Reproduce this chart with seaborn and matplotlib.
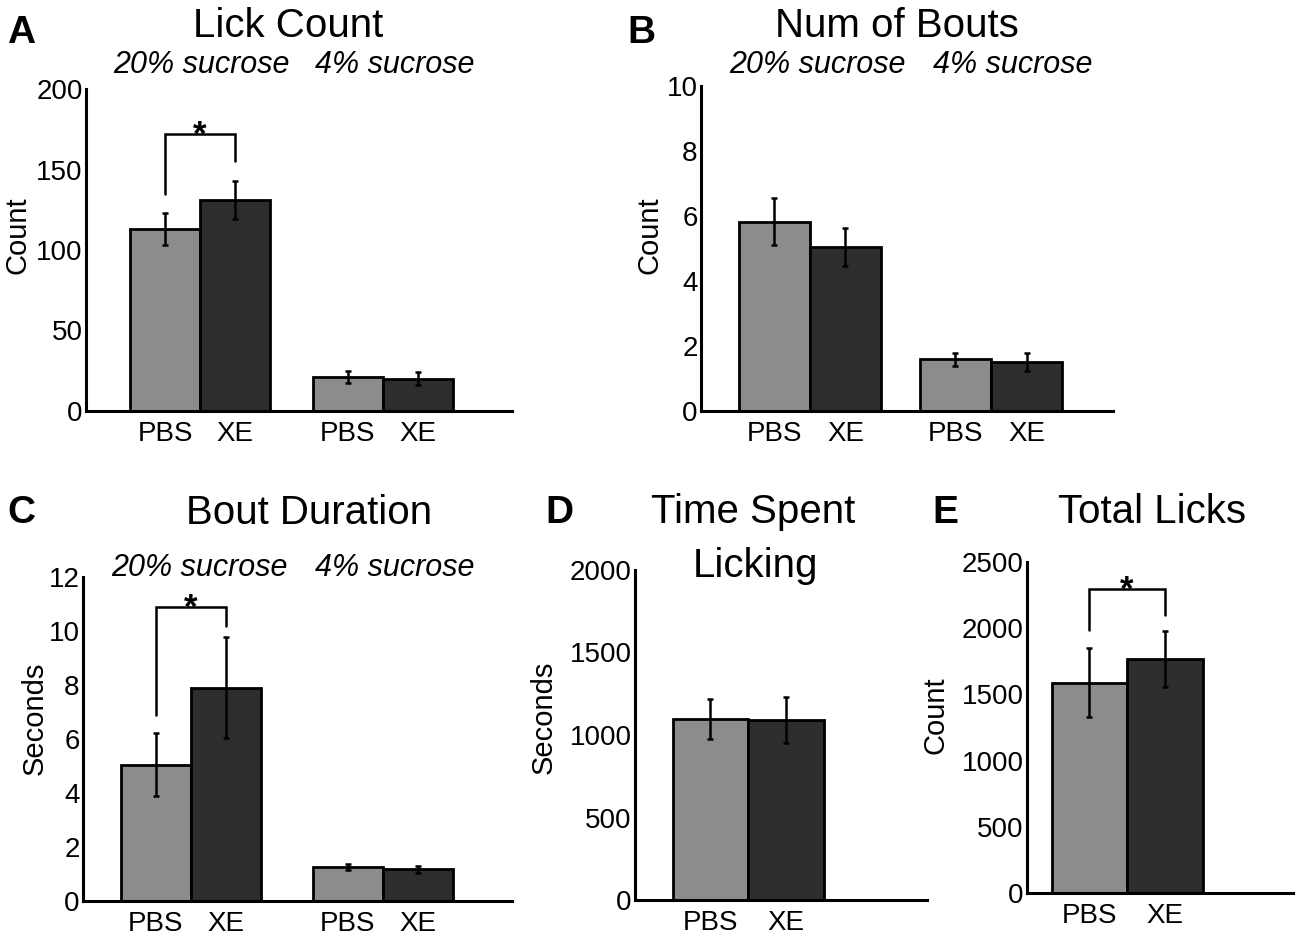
import pandas as pd
import seaborn as sns
import matplotlib.pyplot as plt

sns.set_style("white")
plt.rcParams["font.family"] = ["Liberation Sans", "DejaVu Sans"]
plt.rcParams["text.color"] = "black"
plt.rcParams["axes.labelcolor"] = "black"
plt.rcParams["xtick.color"] = "black"
plt.rcParams["ytick.color"] = "black"

treatments = ["PBS", "XE"]
sucrose = ["20% sucrose", "4% sucrose"]

# mean and SEM, in order PBS 20%, XE 20%, PBS 4%, XE 4%
lick_count = [113, 131, 21.3, 20.0]
lick_count_err = [10, 12, 3.6, 4.0]
bouts = [5.83, 5.04, 1.59, 1.50]
bouts_err = [0.73, 0.59, 0.20, 0.28]
bout_duration = [5.05, 7.9, 1.25, 1.17]
bout_duration_err = [1.16, 1.86, 0.12, 0.14]

# one condition only: PBS, XE
time_licking = [1097, 1091]
time_licking_err = [123, 140]
total_licks = [1588, 1766]
total_licks_err = [262, 213]

# significance brackets: PBS leg start, top, XE leg start
lick_count_sig = [135, 172, 155.5]
bout_duration_sig = [6.88, 10.89, 10.18]
total_licks_sig = [1985, 2299, 2098]

pbs_color = "#8c8c8c"
xe_color = "#2d2d2d"

W, H = 1300, 936


def make_df(values, groups):
    rows = []
    i = 0
    for g in groups:
        for t in treatments:
            rows.append({"group": g, "treatment": t, "value": values[i]})
            i += 1
    return pd.DataFrame(rows)


def add_axes(fig, left, top, right, bottom):
    return fig.add_axes([left / W, 1 - bottom / H, (right - left) / W, (bottom - top) / H])


def draw(ax, values, errs, groups, width, xlim, ylim, yticks, ylabel, label_pos):
    df = make_df(values, groups)
    sns.barplot(data=df, x="group", y="value", hue="treatment", order=groups,
                hue_order=treatments, palette=[pbs_color, xe_color], saturation=1,
                width=width, errorbar=None, edgecolor="black", linewidth=2,
                legend=False, ax=ax)
    bars = sorted(ax.patches, key=lambda p: p.get_x())
    centers = [p.get_x() + p.get_width() / 2 for p in bars]
    heights = [p.get_height() for p in bars]
    ax.errorbar(centers, heights, yerr=errs, fmt="none", ecolor="black",
                elinewidth=1.8, capsize=2.5, capthick=1.8, zorder=3)
    ax.set_xticks(centers)
    ax.set_xticklabels(treatments * len(groups))
    ax.set_xlim(xlim)
    ax.set_ylim(ylim)
    ax.set_yticks(yticks)
    ax.set_xlabel("")
    ax.set_ylabel(ylabel, fontsize=21)
    ax.yaxis.set_label_coords(*label_pos)
    ax.tick_params(axis="x", length=0, pad=7, labelsize=20)
    ax.tick_params(axis="y", direction="in", length=3, width=1.5, pad=2.5, labelsize=20)
    sns.despine(ax=ax)
    for s in ["left", "bottom"]:
        ax.spines[s].set_linewidth(2.2)
        ax.spines[s].set_color("black")
    return centers


def bracket(ax, x1, x2, sig):
    y1, top, y2 = sig
    ax.plot([x1, x1, x2, x2], [y1, top, top, y2], color="black", lw=1.8,
            solid_joinstyle="miter", clip_on=False, zorder=4)
    ax.annotate("*", xy=((x1 + x2) / 2, top), xytext=(0, -8),
                textcoords="offset points", ha="center", va="baseline",
                fontsize=25, fontweight="bold")


def ftext(fig, x, y, s, **kw):
    fig.text(x / W, 1 - y / H, s, va="baseline", **kw)


fig = plt.figure(figsize=(13, 9.36), dpi=100)

# A
axA = add_axes(fig, 86, 89, 512, 411)
c = draw(axA, lick_count, lick_count_err, sucrose, 0.765, (-0.623, 1.705), (0, 200),
         [0, 50, 100, 150, 200], "Count", (-0.127, 0.547))
bracket(axA, c[0], c[1], lick_count_sig)

# B
axB = add_axes(fig, 701, 86, 1113, 411)
draw(axB, bouts, bouts_err, sucrose, 0.785, (-0.602, 1.674), (0, 10),
     [0, 2, 4, 6, 8, 10], "Count", (-0.090, 0.54))

# C
axC = add_axes(fig, 83, 577, 512, 901)
c = draw(axC, bout_duration, bout_duration_err, sucrose, 0.73, (-0.5625, 1.672), (0, 12),
         [0, 2, 4, 6, 8, 10, 12], "Seconds", (-0.079, 0.565))
bracket(axC, c[0], c[1], bout_duration_sig)

# D
axD = add_axes(fig, 635, 570, 927, 900)
draw(axD, time_licking, time_licking_err, ["all"], 0.8, (-0.599, 0.948), (0, 2000),
     [0, 500, 1000, 1500, 2000], "Seconds", (-0.264, 0.555))

# E
axE = add_axes(fig, 1027, 562, 1293, 893)
c = draw(axE, total_licks, total_licks_err, ["all"], 0.8, (-0.530, 0.879), (0, 2500),
         [0, 500, 1000, 1500, 2000, 2500], "Count", (-0.293, 0.538))
bracket(axE, c[0], c[1], total_licks_sig)

# titles and panel letters
title_kw = dict(fontsize=29, ha="center")
sub_kw = dict(fontsize=22, ha="center", style="italic")
letter_kw = dict(fontsize=28, fontweight="bold", ha="left")

ftext(fig, 7, 43, "A", **letter_kw)
ftext(fig, 288, 37, "Lick Count", **title_kw)
ftext(fig, 201, 73, "20% sucrose", **sub_kw)
ftext(fig, 395, 73, "4% sucrose", **sub_kw)

ftext(fig, 627, 43, "B", **letter_kw)
ftext(fig, 897, 37, "Num of Bouts", **title_kw)
ftext(fig, 817, 73, "20% sucrose", **sub_kw)
ftext(fig, 1013, 73, "4% sucrose", **sub_kw)

ftext(fig, 7, 523, "C", **letter_kw)
ftext(fig, 309, 524, "Bout Duration", **title_kw)
ftext(fig, 199, 576, "20% sucrose", **sub_kw)
ftext(fig, 395, 576, "4% sucrose", **sub_kw)

ftext(fig, 545, 523, "D", **letter_kw)
ftext(fig, 753, 523, "Time Spent", **title_kw)
ftext(fig, 756, 577, "Licking", **title_kw)

ftext(fig, 932, 523, "E", **letter_kw)
ftext(fig, 1152, 523, "Total Licks", **title_kw)

fig.savefig("out.png", dpi=100)
